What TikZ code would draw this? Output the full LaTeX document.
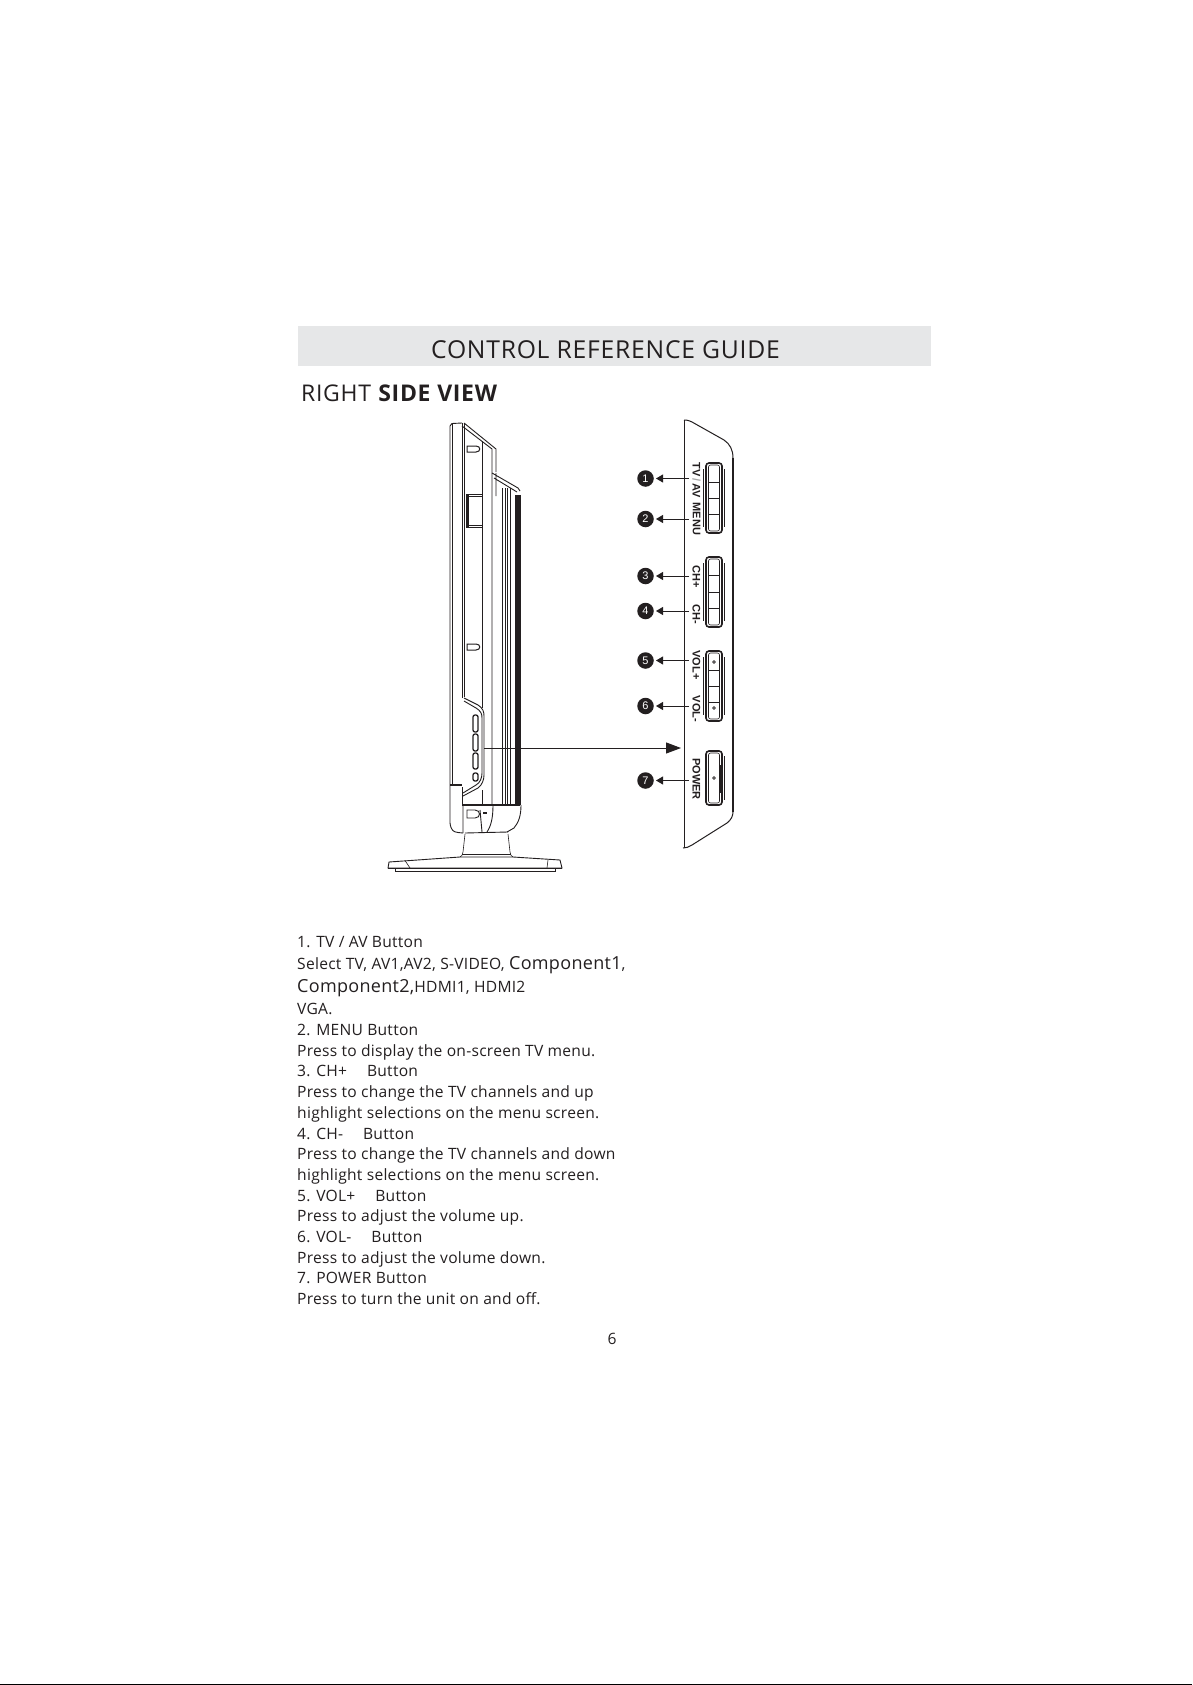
\documentclass[tikz,border=0pt]{standalone}
\usepackage{fontspec}
\setmainfont{Open Sans}[LetterSpace=1.7]
\newfontfamily\ctitle{Open Sans}[LetterSpace=3]
\newfontfamily\lab{Liberation Sans}[Scale=1]
\usetikzlibrary{arrows.meta}
\definecolor{ink}{HTML}{231F20}
\definecolor{band}{HTML}{E6E7E8}
\tikzset{
  x=1pt,y=-1pt,
  body/.style={font=\fontsize{15.6}{18}\selectfont,anchor=base west,inner sep=0,text=ink},
  bline/.style={draw=ink,line width=0.9pt},
  thin line/.style={draw=ink,line width=0.6pt},
  heavy/.style={draw=ink,line width=1.5pt},
  num/.style={circle,fill=ink,text=white,inner sep=0,minimum size=16.5pt,font=\lab\fontsize{11}{11}\selectfont},
  keylab/.style={font=\lab\bfseries\fontsize{11}{11}\selectfont,rotate=-90,inner sep=0,text=ink},
  pointer/.style={draw=ink,line width=0.9pt,-{Triangle[length=7pt,width=8pt]}},
}
\begin{document}
\begin{tikzpicture}
\useasboundingbox (0,0) rectangle (1192,1685);
\fill[white] (0,0) rectangle (1192,1685);
\fill[black] (0,1683.5) rectangle (1192,1685);
% header
\fill[band] (298,326) rectangle (931,366);
\node[font=\ctitle\fontsize{24.7}{26}\selectfont,inner sep=0,anchor=base,text=ink] (title) at (605.5,358) {CONTROL REFERENCE GUIDE};
\node[font=\ctitle\fontsize{23}{24}\selectfont,inner sep=0,anchor=base west,text=ink] (sub) at (301,401) {RIGHT \textbf{SIDE VIEW}};
% TV side view
\draw[bline] (450,823) -- (450,426) -- (452,423.5) -- (462,423) (452.5,424) -- (452.5,785);
\draw[bline] (462,423) -- (462,698) (464.5,424) -- (464.5,697) (462,787) -- (462,805);
\draw[bline] (464,423) -- (496,449) -- (496,472) (462,426) -- (492,449) -- (492,805);
\draw[bline] (482,441) -- (482,708);
\draw[bline] (492,473) -- (518,488) -- (520,491) (494,478) -- (517,492) (496,496) -- (496,473);
\foreach \xx in {502,505,507,510} \draw[thin line] (\xx,488) -- (\xx,805);
\fill[ink] (515,495) rectangle (521,805);
% small clips
\draw[bline,line width=1pt] (467,446) -- (476,446) .. controls (481,446) and (481,452) .. (476,452) -- (467,452) -- cycle;
\draw[bline,line width=1pt] (467,644) -- (476,644) .. controls (481,644) and (481,650) .. (476,650) -- (467,650) -- cycle;
\fill[ink] (466,494) rectangle (469,527);
\draw[bline] (466,494) rectangle (482,527);
\draw[thin line] (466,496) -- (482,496) (466,525) -- (482,525);
% control bulge
\draw[bline] (464,698) -- (478,705) .. controls (483,708) and (484,712) .. (484,716) -- (484,775) .. controls (484,780) and (482,785) .. (478,788) -- (463,796);
\draw[bline] (464,701) -- (476,708) .. controls (481,711) and (482,714) .. (482,718) -- (482,773) .. controls (482,778) and (480,783) .. (476,785) -- (463,793);
\draw[line width=1.3pt,draw=ink,rounded corners=2pt] (473,715) rectangle (478,732);
\draw[line width=1.3pt,draw=ink,rounded corners=2pt] (473,734) rectangle (478,751);
\draw[line width=1.3pt,draw=ink,rounded corners=2pt] (473,753) rectangle (478,769);
\draw[line width=1.3pt,draw=ink,rounded corners=2pt] (473,773) rectangle (478,781);
\draw[heavy] (450,785) -- (462,785);
\draw[thin line] (482,790) -- (482,805);
% lower cover
\draw[heavy] (462,805) -- (520,805);
\draw[bline] (450,823) .. controls (451,830) and (453,832) .. (458,832.5) -- (463,833);
\draw[bline] (463,805) -- (463,833) (465,833) -- (508,832);
\draw[bline] (521,805) .. controls (521,815) and (519,822) .. (514,828) -- (507,832);
\draw[bline] (493,805) .. controls (493,818) and (491,826) .. (487,832);
\draw[bline] (480,810) -- (482,832);
\draw[bline] (467,810) -- (475,810) .. controls (481,810) and (481,818) .. (475,818) -- (467,818) -- cycle;
\fill[ink] (483,812) rectangle (487,814);
% stand
\draw[thin line] (465,834) -- (463,852) .. controls (462.5,855) and (462,856) .. (460,857);
\draw[thin line] (508,834) -- (510,852) .. controls (510.5,855) and (511,856) .. (513,857);
\draw[thin line] (462,854) -- (511,854);
\draw[bline] (389,862) -- (460,857) -- (513,857) -- (560,860) -- (562,868) -- (388,868) -- cycle;
\draw[thin line] (405,860.5) -- (410,868) (548,860) -- (547,868);
\draw[heavy] (388,868.5) -- (562,868.5);
\draw[bline] (395,869) -- (395,871) -- (555,871) -- (555,869);
% right panel
\draw[line width=1pt,draw=ink] (684,848) -- (684,420);
\draw[line width=1pt,draw=ink] (684,420) .. controls (688,420) and (690,421) .. (692,422) -- (724,440) .. controls (730,444) and (733,450) .. (733,458);
\draw[line width=1.6pt,draw=ink] (733,458) -- (733,812);
\draw[line width=1pt,draw=ink] (733,812) .. controls (733,816) and (731,820) .. (727,823) -- (692,845) .. controls (689,847) and (686,848) .. (683,848);
% button groups: top bottom y, dividers
\newcommand{\keygroup}[4]{%
  \draw[line width=1.6pt,draw=ink,rounded corners=3pt] (706,#1) rectangle (722,#2);
  \draw[thin line,rounded corners=2pt] (708.5,#1+2) rectangle (719.5,#2-2);
  \draw[line width=0.5pt,draw=ink] (708,#3) -- (720,#3);
  \draw[line width=0.5pt,draw=ink] (708,#4) -- (720,#4);
  \draw[line width=0.5pt,draw=ink] (703.5,#1+6) -- (703.5,#2-6) (724,#1+6) -- (724,#2-6);
}
\keygroup{463}{533}{482}{514}
\draw[line width=0.5pt,draw=ink] (708,498) -- (720,498);
\keygroup{557}{627}{575}{608}
\draw[line width=0.5pt,draw=ink] (708,592) -- (720,592);
\keygroup{651}{721}{670}{702}
\draw[line width=0.5pt,draw=ink] (708,686) -- (720,686);
\draw[line width=1.6pt,draw=ink,rounded corners=3pt] (706,751) rectangle (722,805);
\draw[thin line,rounded corners=2pt] (708.5,753) rectangle (719.5,803);
\draw[line width=0.5pt,draw=ink] (724,756) -- (724,800) (720,765) -- (720,793);
\draw[line width=0.6pt,draw=ink] (714,662) circle[radius=1.4] (714,708) circle[radius=1.4] (714,778) circle[radius=1.4];
% key labels
\node[keylab] (ltv) at (696.5,480) {TV\textcolor{black!35}{\,/\,}AV};
\node[keylab] (lmenu) at (696.5,519) {MENU};
\node[keylab] (lchp) at (696.5,576.5) {CH+};
\node[keylab] (lchm) at (696.5,614.5) {CH-};
\node[keylab] (lvp) at (696.5,665) {VOL+};
\node[keylab] (lvm) at (696.5,709) {VOL-};
\node[keylab] (lpow) at (696.5,779) {POWER};
% callouts
\node[num] (n1) at (645.5,478.5) {1};
\node[num] (n2) at (645.5,519) {2};
\node[num] (n3) at (645.5,576) {3};
\node[num] (n4) at (645.5,611) {4};
\node[num] (n5) at (645.5,660.5) {5};
\node[num] (n6) at (645.5,706) {6};
\node[num] (n7) at (645.5,780.5) {7};
\coordinate (a1) at (689,478.5); \coordinate (t1) at (656,478.5);
\coordinate (a2) at (689,519); \coordinate (t2) at (656,519);
\coordinate (a3) at (689,576); \coordinate (t3) at (656,576);
\coordinate (a4) at (689,611); \coordinate (t4) at (656,611);
\coordinate (a5) at (689,660.5); \coordinate (t5) at (656,660.5);
\coordinate (a6) at (689,706); \coordinate (t6) at (656,706);
\coordinate (a7) at (689,780.5); \coordinate (t7) at (656,780.5);
\foreach \i in {1,...,7} \draw[pointer] (a\i) -- (t\i);
\coordinate (bulge) at (484,748); \coordinate (bigtip) at (681,748);
\draw[line width=1pt,draw=ink,-{Triangle[length=15pt,width=11pt]}] (bulge) -- (bigtip);
% description
\node[body] (d1) at (297,947) {1. TV / AV Button};
\node[body] (d2) at (297,969.5) {Select TV, AV1,AV2, S-VIDEO, {\fontsize{18}{18}\selectfont Component1},};
\node[body] (d3) at (297,992) {{\fontsize{18}{18}\selectfont Component2,}HDMI1, HDMI2};
\node[body] (d4) at (297,1014) {VGA.};
\node[body] (d5) at (297,1035) {2. MENU Button};
\node[body] (d6) at (297,1056) {Press to display the on-screen TV menu.};
\node[body] (d7) at (297,1076.5) {3. CH+\hspace{1em} Button};
\node[body] (d8) at (297,1097) {Press to change the TV channels and up};
\node[body] (d9) at (297,1118.5) {highlight selections on the menu screen.};
\node[body] (d10) at (297,1139) {4. CH-\hspace{1em} Button};
\node[body] (d11) at (297,1159.5) {Press to change the TV channels and down};
\node[body] (d12) at (297,1180.5) {highlight selections on the menu screen.};
\node[body] (d13) at (297,1201) {5. VOL+\hspace{1em} Button};
\node[body] (d14) at (297,1221.5) {Press to adjust the volume up.};
\node[body] (d15) at (297,1242) {6. VOL-\hspace{1em} Button};
\node[body] (d16) at (297,1263) {Press to adjust the volume down.};
\node[body] (d17) at (297,1283.5) {7. POWER Button};
\node[body] (d18) at (297,1304) {Press to turn the unit on and off.};
\node[body,anchor=base] (pg) at (612,1344) {6};
\end{tikzpicture}
\end{document}
